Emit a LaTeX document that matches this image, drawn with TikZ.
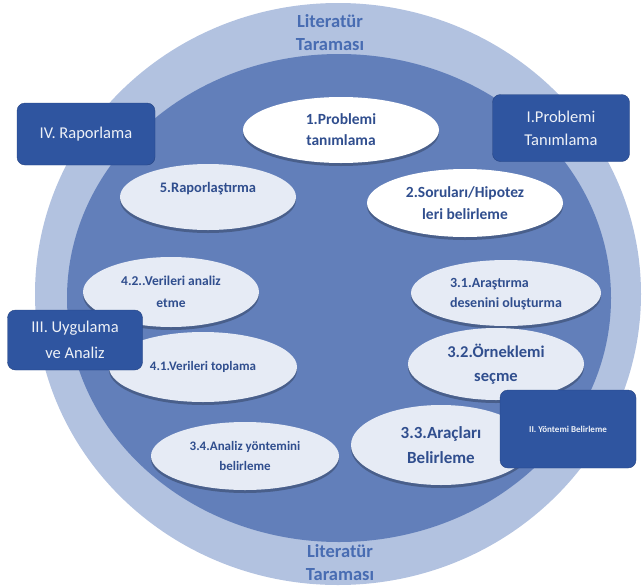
\documentclass[tikz,border=0pt]{standalone}
\usepackage{fontspec}
\setmainfont{Carlito}
\usetikzlibrary{shapes.geometric,shadows}
\definecolor{ringblue}{RGB}{178,194,224}
\definecolor{coreblue}{RGB}{98,127,186}
\definecolor{boxblue}{RGB}{47,85,160}
\definecolor{boxedge}{RGB}{38,68,130}
\definecolor{leafwhite}{RGB}{255,255,255}
\definecolor{leaflight}{RGB}{230,235,245}
\definecolor{leaftext}{RGB}{48,78,142}
\definecolor{littext}{RGB}{72,108,178}
\newcommand{\fs}[2]{\fontsize{#1}{#2}\selectfont}

\begin{document}
\begin{tikzpicture}[x=1pt,y=-1pt,
 stepleaf/.style={ellipse,inner sep=0pt,align=center,text=leaftext,
  drop shadow={shadow xshift=0pt,shadow yshift=-3pt,opacity=.25,fill=black}},
 phasebox/.style={rectangle,rounded corners=8pt,draw=boxedge,fill=boxblue,text=white!92!boxblue,align=center,inner sep=0pt},
 littitle/.style={font=\bfseries\fs{18.5}{23},text=littext,align=center}]
 \useasboundingbox (0,0) rectangle (643,587);
 % rings
 \fill[ringblue] (338,294) ellipse [x radius=303,y radius=291];
 \fill[coreblue] (339,298) ellipse [x radius=272,y radius=244];
 \node[littitle] (littop) at (330,33) {Literatür\\Taraması};
 \node[littitle] (litbot) at (340,563) {Literatür\\Taraması};
 % steps
 \node[stepleaf,fill=leafwhite,minimum width=196,minimum height=66,font=\bfseries\fs{15.5}{21}] (s1) at (341,130) {1.Problemi\\tanımlama};
 \node[stepleaf,fill=leafwhite,minimum width=196,minimum height=68,font=\bfseries\fs{15.5}{22}] (s2) at (465,203) {2.Soruları/Hipotez\\leri belirleme};
 \node[stepleaf,fill=leaflight,minimum width=190,minimum height=66,font=\bfseries\fs{14}{20}] (s31) at (506,293) {\begin{tabular}{@{}l@{}}3.1.Araştırma\\desenini oluşturma\end{tabular}};
 \node[stepleaf,fill=leaflight,minimum width=176,minimum height=72,font=\bfseries\fs{16.5}{24}] (s32) at (496,364) {3.2.Örneklemi\\seçme};
 \node[stepleaf,fill=leaflight,minimum width=180,minimum height=80,font=\bfseries\fs{17}{25}] (s33) at (441,445) {3.3.Araçları\\Belirleme};
 \node[stepleaf,fill=leaflight,minimum width=188,minimum height=68,font=\bfseries\fs{13}{20}] (s34) at (245,456) {3.4.Analiz yöntemini\\belirleme};
 \node[stepleaf,fill=leaflight,minimum width=188,minimum height=70,font=\bfseries\fs{13}{15}] (s41) at (203,367) {4.1.Verileri toplama};
 \node[stepleaf,fill=leaflight,minimum width=176,minimum height=70,font=\bfseries\fs{13.5}{22}] (s42) at (171,292) {4.2..Verileri analiz\\etme};
 \node[stepleaf,fill=leaflight,minimum width=176,minimum height=66,font=\bfseries\fs{14.5}{19}] (s5) at (208,197) {5.Raporlaştırma\\~};
 % phases
 \node[phasebox,minimum width=138,minimum height=62,font=\fs{16.5}{20}] (p4) at (86,134) {IV. Raporlama};
 \node[phasebox,minimum width=137,minimum height=67,font=\fs{16.5}{23}] (p1) at (561,128) {I.Problemi\\Tanımlama};
 \node[phasebox,minimum width=135,minimum height=60,font=\fs{16.5}{26}] (p3) at (75,340) {III. Uygulama\\ve Analiz};
 \node[phasebox,minimum width=136,minimum height=78,font=\bfseries\fs{9}{11}] (p2) at (568,429) {II. Yöntemi Belirleme};
\end{tikzpicture}
\end{document}
